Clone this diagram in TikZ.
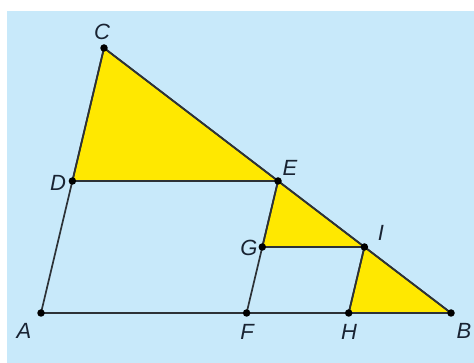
\documentclass[tikz,border=0pt]{standalone}
\usepackage{fontspec}
\setmainfont{Liberation Sans}
\begin{document}
\begin{tikzpicture}[x=1pt,y=-1pt,
  seg/.style={draw=linegray,line width=1.7pt},
  tri/.style={fill=triyellow,draw=linegray,line width=1.7pt,line join=round},
  pt/.style={circle,fill=black,inner sep=0pt,minimum size=7.5pt},
  lab/.style={font=\fontsize{22}{22}\selectfont\itshape,text=labelblue,inner sep=0pt}]
\definecolor{bgblue}{RGB}{200,233,250}
\definecolor{triyellow}{RGB}{255,232,0}
\definecolor{linegray}{RGB}{45,50,55}
\definecolor{labelblue}{RGB}{25,35,50}
\useasboundingbox (0,0) rectangle (474,363);
\fill[white] (0,0) rectangle (474,363);
\fill[bgblue] (7,11) rectangle (474,363);
\coordinate (A) at (41,313);
\coordinate (B) at (451,313);
\coordinate (C) at (104,48);
\coordinate (D) at (72.4,181);
\coordinate (E) at (278,181);
\coordinate (F) at (246.6,313);
\coordinate (G) at (262.3,247);
\coordinate (I) at (364.4,247);
\coordinate (H) at (348.7,313);
\path[tri] (C) -- (D) -- (E) -- cycle;
\path[tri] (E) -- (G) -- (I) -- cycle;
\path[tri] (I) -- (H) -- (B) -- cycle;
\draw[seg] (A) -- (C);
\draw[seg] (C) -- (B);
\draw[seg] (A) -- (B);
\draw[seg] (D) -- (E);
\draw[seg] (E) -- (F);
\draw[seg] (G) -- (I);
\draw[seg] (I) -- (H);
\foreach \p in {A,B,C,D,E,F,G,H,I} \node[pt] (p\p) at (\p) {};
\node[lab] (lA) at (24,331) {A};
\node[lab] (lB) at (464,331) {B};
\node[lab] (lC) at (102,32) {C};
\node[lab] (lD) at (58,183) {D};
\node[lab] (lE) at (290,168) {E};
\node[lab] (lF) at (247,332) {F};
\node[lab] (lG) at (249,248) {G};
\node[lab] (lH) at (349,332) {H};
\node[lab] (lI) at (381,233) {I};
\end{tikzpicture}
\end{document}
